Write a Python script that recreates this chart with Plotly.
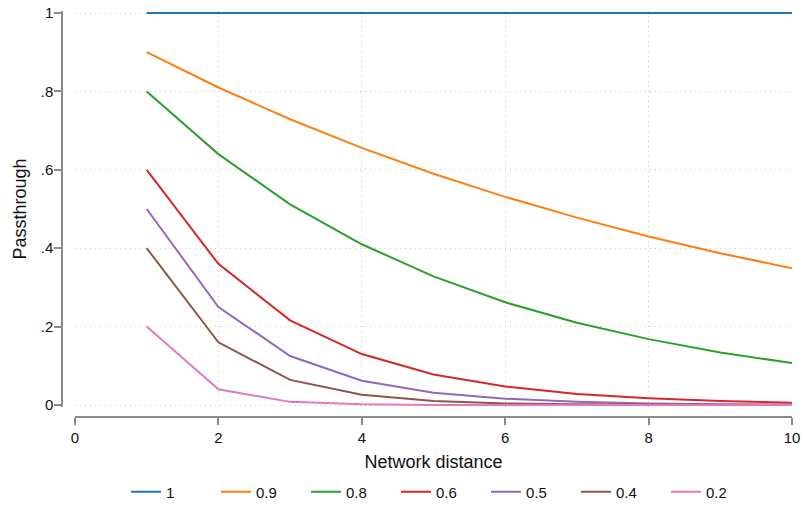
import plotly.graph_objects as go

W, H = 804, 513

distance = [1, 2, 3, 4, 5, 6, 7, 8, 9, 10]
series_names = ["1", "0.9", "0.8", "0.6", "0.5", "0.4", "0.2"]
s_10 = [1, 1, 1, 1, 1, 1, 1, 1, 1, 1]
s_09 = [0.9, 0.81, 0.729, 0.656, 0.59, 0.531, 0.478, 0.43, 0.387, 0.349]
s_08 = [0.8, 0.64, 0.512, 0.41, 0.328, 0.262, 0.21, 0.168, 0.134, 0.107]
s_06 = [0.6, 0.36, 0.216, 0.13, 0.078, 0.047, 0.028, 0.017, 0.01, 0.006]
s_05 = [0.5, 0.25, 0.125, 0.062, 0.031, 0.016, 0.008, 0.004, 0.002, 0.001]
s_04 = [0.4, 0.16, 0.064, 0.026, 0.01, 0.004, 0.002, 0.001, 0.0003, 0.0001]
s_02 = [0.2, 0.04, 0.008, 0.002, 0.0003, 0.0001, 0.0, 0.0, 0.0, 0.0]
series_values = [s_10, s_09, s_08, s_06, s_05, s_04, s_02]
colors = ["#1f77b4", "#ff7f0e", "#2ca02c", "#d62728", "#9467bd", "#8c564b", "#e377c2"]

x_ticks = [0, 2, 4, 6, 8, 10]
y_ticks = [0, 0.2, 0.4, 0.6, 0.8, 1]
y_ticktext = ["0", ".2", ".4", ".6", ".8", "1"]

font_family = "Liberation Sans, Arial, Helvetica, sans-serif"
axis_color = "#8a8a8a"
grid_color = "#c8c8c8"

fig = go.Figure()
for name, vals, c in zip(series_names, series_values, colors):
    fig.add_trace(go.Scatter(x=distance, y=vals, mode="lines", name=name,
                             line=dict(color=c, width=2)))

pad = 0.004
fig.update_layout(
    width=W, height=H,
    margin=dict(l=0, r=0, t=0, b=0, autoexpand=False),
    paper_bgcolor="white", plot_bgcolor="white",
    font=dict(family=font_family, size=15, color="#111"),
    showlegend=True,
    legend=dict(orientation="h", x=126 / W, xanchor="left", y=1 - 492 / H, yanchor="middle",
                entrywidth=45, entrywidthmode="pixels", itemwidth=30,
                font=dict(size=15, family=font_family)),
    xaxis=dict(
        domain=[75 / W, 792 / W], range=[0, 10],
        anchor="free", position=1 - 417 / H,
        tickvals=x_ticks, ticks="outside", ticklen=7, tickcolor=axis_color, tickwidth=1.5,
        showline=True, linecolor=axis_color, linewidth=1.5,
        showgrid=True, gridcolor=grid_color, griddash="1px,4px", gridwidth=1,
        zeroline=False, automargin=False,
        title=dict(text="Network distance", standoff=10),
    ),
    yaxis=dict(
        domain=[1 - 405 / H - pad * 392 / H, 1 - 13 / H + pad * 392 / H], range=[-pad, 1 + pad],
        anchor="free", position=62 / W,
        tickvals=y_ticks, ticktext=y_ticktext, ticks="outside", ticklen=7,
        tickcolor=axis_color, tickwidth=1.5, ticklabelstandoff=-2,
        showline=True, linecolor=axis_color, linewidth=1.5,
        showgrid=True, gridcolor=grid_color, griddash="1px,4px", gridwidth=1,
        zeroline=False, automargin=False,
        title=dict(text="Passthrough", standoff=8),
    ),
)

fig.write_html("out.html", config={"displayModeBar": False},
               post_script="document.body.style.margin='0';")
